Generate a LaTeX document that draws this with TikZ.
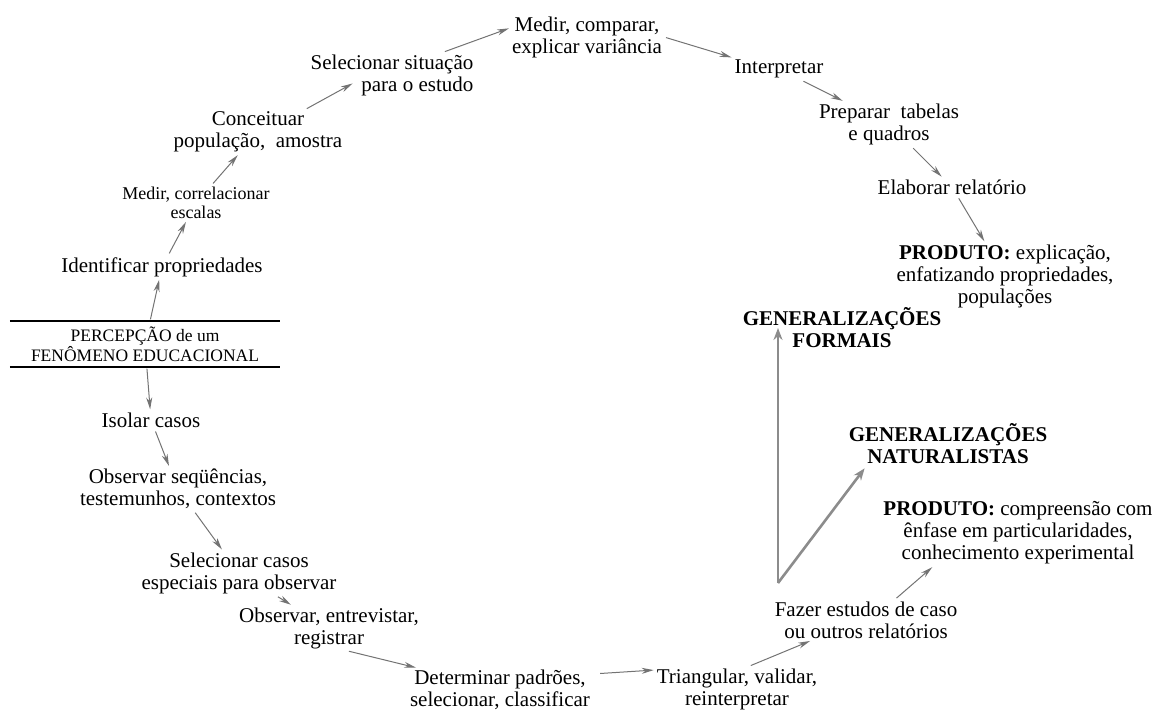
\documentclass[tikz,border=0pt]{standalone}
\usepackage{fontspec}
\setmainfont{Liberation Serif}
\usetikzlibrary{arrows.meta}

\tikzset{
  passo/.style={align=center, inner sep=2pt, font=\fontsize{21}{22}\selectfont},
  passopeq/.style={align=center, inner sep=2pt, font=\fontsize{18}{19}\selectfont},
  geral/.style={align=center, inner sep=2pt, font=\bfseries\fontsize{21}{22}\selectfont},
  seta/.style={draw=black!55, line width=1pt, -{Stealth[length=12pt,width=6pt]}, shorten <=2pt, shorten >=1pt},
  setagrossa/.style={draw=black!45, line width=2.6pt, -{Stealth[length=12pt,width=9pt]}},
}

\begin{document}
\begin{tikzpicture}[x=1pt,y=-1pt]
  \useasboundingbox (0,0) rectangle (1158,715);

  % ponto de partida
  \node[passopeq, minimum width=270pt, minimum height=45pt, font=\fontsize{17.5}{18}\selectfont] (perc) at (145,344) {PERCEPÇÃO de um\\FENÔMENO EDUCACIONAL};
  \draw[line width=2.2pt] (perc.north west) -- (perc.north east);
  \draw[line width=2.2pt] (perc.south west) -- (perc.south east);

  % ramo de cima
  \node[passo] (ident) at (162,267) {Identificar propriedades};
  \node[passopeq] (medcor) at (196,203) {Medir, correlacionar\\escalas};
  \node[passo] (conc) at (258,132) {Conceituar\hspace{34pt}\\população,\ \ amostra};
  \node[passo, align=right] (sel) at (392,75) {Selecionar situação\\para o estudo};
  \node[passo] (medcomp) at (587,37) {Medir, comparar,\\explicar variância};
  \node[passo] (interp) at (779,69) {Interpretar};
  \node[passo] (prep) at (889,124) {Preparar\ \ tabelas\\e quadros};
  \node[passo] (elab) at (952,187) {Elaborar relatório};
  \node[passo] (prod1) at (1005,276) {\textbf{PRODUTO:} explicação,\\enfatizando propriedades,\\populações};
  \node[geral] (genf) at (842,328) {GENERALIZAÇÕES\\FORMAIS};

  % ramo de baixo
  \node[passo] (isolar) at (151,420) {Isolar casos};
  \node[passo] (obsseq) at (178,489) {Observar seqüências,\\testemunhos, contextos};
  \node[passo] (selcasos) at (239,573) {Selecionar casos\\especiais para observar};
  \node[passo] (obs) at (329,628) {Observar, entrevistar,\\registrar};
  \node[passo] (det) at (500,690) {Determinar padrões,\\selecionar, classificar};
  \node[passo] (triang) at (737,689) {Triangular, validar,\\reinterpretar};
  \node[passo] (fazer) at (866,620) {Fazer estudos de caso\\ou outros relatórios};
  \node[passo] (prod2) at (1018,533) {\textbf{PRODUTO:} compreensão com\\ênfase em particularidades,\\conhecimento experimental};
  \node[geral] (gennat) at (948,444) {GENERALIZAÇÕES\\NATURALISTAS};
  \coordinate (raiz) at (778,583);

  % setas de cima
  \draw[seta] (perc) -- (ident);
  \draw[seta] (ident) -- (medcor);
  \draw[seta] (medcor) -- (conc);
  \draw[seta] ([xshift=47pt]conc.north) -- ([xshift=45pt,yshift=-8pt]sel.west);
  \draw[seta] ([xshift=51pt]sel.north) -- ([yshift=9pt]medcomp.west);
  \draw[seta] (medcomp.east) -- (interp.north west);
  \draw[seta] (interp) -- (prep);
  \draw[seta] (prep) -- (elab);
  \draw[seta] (elab) -- (prod1);

  % setas de baixo
  \draw[seta] (perc) -- (isolar);
  \draw[seta] (isolar) -- (obsseq);
  \draw[seta] (obsseq) -- (selcasos);
  \draw[seta] (selcasos) -- (obs);
  \draw[seta] ([xshift=18pt]obs.south) -- ([xshift=-83pt]det.north);
  \draw[seta, shorten <=8pt] ([yshift=16pt]det.east) -- ([yshift=19pt]triang.west);
  \draw[seta] ([xshift=12pt]triang.north) -- ([xshift=-55pt]fazer.south);
  \draw[seta] ([xshift=29pt]fazer.north) -- ([xshift=-85pt]prod2.south);

  % generalizacoes
  \draw[setagrossa] (raiz) -- (raiz |- genf);
  \draw[setagrossa] (raiz) -- ([xshift=18pt,yshift=-2pt]gennat.south west);
\end{tikzpicture}
\end{document}
